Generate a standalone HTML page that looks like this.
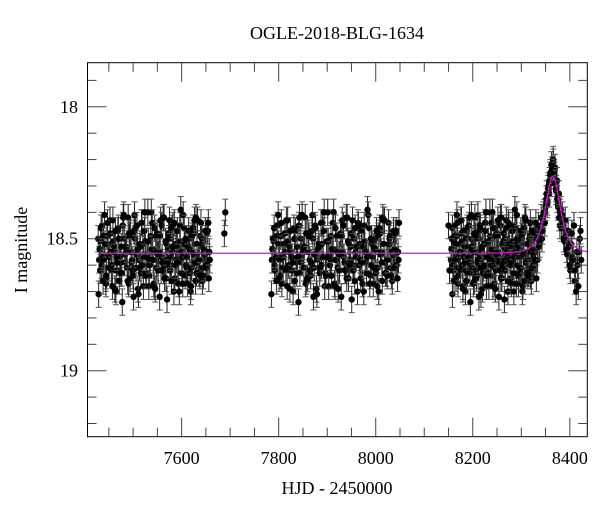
<!DOCTYPE html>
<html><head><meta charset="utf-8"><style>
body{margin:0;background:#fff}
svg{display:block;font-family:"Liberation Serif",serif}
</style></head><body>
<svg id="c" width="600" height="512"></svg>
<script>
const xDomain=[7406,8436];
const yDomain=[17.833,19.25];
const xTicks=[7600,7800,8000,8200,8400];
const yTicks=[18,18.5,19];
const seasonStart=[7428,7785,8155];
const seasonEnd=[7655,8045,8328];
const magsA=[18.50,18.62,18.45,18.58,18.67,18.52,18.43,18.60,18.55,18.70,18.47,18.57,18.63,18.41,18.53,18.66,18.49,18.59,18.72,18.46,18.54,18.61,18.44,18.68,18.51,18.56,18.64,18.40,18.58,18.69,18.48,18.55,18.62,18.42,18.60,18.73,18.50,18.57,18.45,18.65,18.53,18.59,18.39,18.67,18.52,18.61,18.47,18.70,18.55,18.43,18.63,18.58,18.49,18.66,18.54,18.60,18.44];
const magsB=[18.71,18.51,18.57,18.41,18.64,18.56,18.48,18.68,18.53,18.62,18.46,18.59,18.74,18.50,18.55,18.42,18.65,18.58,18.47,18.61,18.69,18.52,18.44,18.57,18.63,18.40,18.60,18.54,18.67,18.49,18.56,18.72,18.45,18.62,18.51,18.58,18.43,18.66,18.53,18.60,18.47,18.70,18.55,18.41,18.64,18.57,18.50,18.68,18.46,18.59,18.52,18.63,18.44,18.61,18.56,18.48,18.65];
const magsC=[18.58,18.46,18.66,18.52,18.49,18.61,18.55,18.43,18.69,18.57,18.50,18.63,18.45,18.59,18.54,18.67,18.48,18.62,18.41,18.56,18.71,18.53,18.60,18.47,18.64,18.51,18.58,18.44,18.68,18.55,18.62,18.49,18.57,18.42,18.65,18.53,18.60,18.46,18.70,18.52,18.59,18.45,18.63,18.56,18.50,18.67,18.54,18.61,18.48,18.66,18.43,18.58,18.52,18.64,18.47,18.60,18.55];
const magsD=[18.54,18.60,18.49,18.65,18.44,18.57,18.62,18.51,18.47,18.59,18.66,18.53,18.42,18.56,18.61,18.48,18.55,18.64,18.50,18.45,18.58,18.63,18.52,18.40,18.57,18.68,18.49,18.54,18.46,18.61,18.56,18.43,18.59,18.65,18.52,18.48,18.62,18.55,18.44,18.58,18.67,18.51,18.57,18.46,18.60,18.53,18.63,18.49,18.56,18.42,18.59,18.64,18.50,18.55,18.61,18.47,18.58];
const peakT=[8332,8335,8338,8341,8344,8347,8350,8352,8354,8356,8358,8360,8362,8364,8366,8368,8370,8372,8374,8376,8378,8380,8383,8386,8389,8392,8395,8398,8401,8404,8407,8410,8413,8416,8419,8422];
const peakM1=[18.50,18.45,18.52,18.42,18.47,18.40,18.38,18.33,18.36,18.30,18.28,18.25,18.22,18.24,18.21,18.26,18.29,18.32,18.35,18.38,18.42,18.40,18.46,18.44,18.51,18.49,18.56,18.53,18.62,18.48,18.58,18.66,18.70,18.60,18.55,18.47];
const peakM2=[18.58,18.53,18.47,18.50,18.41,18.44,18.35,18.37,18.31,18.33,18.26,18.29,18.24,18.20,18.25,18.23,18.31,18.28,18.37,18.33,18.45,18.39,18.41,18.50,18.43,18.54,18.47,18.60,18.52,18.57,18.45,18.62,18.55,18.68,18.50,18.58];
const extraT=[7688,7690,8150,8152];
const extraM=[18.48,18.40,18.45,18.62];
const modelBase=18.555, modelT0=8365, modelU0=1.05, modelTE=18;

const L=87.5,R=587.3,T=62.7,B=436.7;
const sx=v=>L+(v-xDomain[0])/(xDomain[1]-xDomain[0])*(R-L);
const sy=v=>T+(v-yDomain[0])/(yDomain[1]-yDomain[0])*(B-T);
const svg=document.getElementById('c');
const NS='http://www.w3.org/2000/svg';
function mk(tag,attrs,parent){const e=document.createElementNS(NS,tag);for(const k in attrs)e.setAttribute(k,attrs[k]);(parent||svg).appendChild(e);return e;}

let t=mk('text',{x:337,y:39,'text-anchor':'middle','font-size':18});
t.textContent='OGLE-2018-BLG-1634';



const pts=mk('g',{});


function point(x,m){
  const X=sx(x),Y=sy(m),e=0.05*(B-T)/(yDomain[1]-yDomain[0]);
  mk('line',{x1:X,x2:X,y1:Y-e,y2:Y+e,stroke:'#222','stroke-width':1},pts);
  mk('line',{x1:X-3,x2:X+3,y1:Y-e,y2:Y-e,stroke:'#555','stroke-width':1},pts);
  mk('line',{x1:X-3,x2:X+3,y1:Y+e,y2:Y+e,stroke:'#555','stroke-width':1},pts);
  const c=mk('circle',{cx:X,cy:Y,r:3.2,fill:'#000'},pts);
  
  
}
const seasonMags=[[magsA,magsB,magsC,magsD],[magsB,magsC,magsD,magsA],[magsC,magsD,magsA,magsB]];
const offs=[0,1,2,3];
for(let s=0;s<3;s++){
  const lists=seasonMags[s];const n=lists[0].length;
  for(let i=0;i<n;i++){
    const tt=seasonStart[s]+(seasonEnd[s]-seasonStart[s])*i/(n-1);
    for(let k=0;k<4;k++)point(tt+offs[k],lists[k][i]);
  }
}
for(let i=0;i<peakT.length;i++){point(peakT[i],peakM1[i]);point(peakT[i]+1.5,peakM2[i]);}
for(let i=0;i<extraT.length;i++)point(extraT[i],extraM[i]);

let d='';
for(let x=7432;x<=8436;x+=1){
  const tau=(x-modelT0)/modelTE,u=Math.sqrt(modelU0*modelU0+tau*tau);
  const A=(u*u+2)/(u*Math.sqrt(u*u+4));
  const m=modelBase-2.5*Math.log10(A);
  d+=(d?'L':'M')+sx(x).toFixed(2)+','+sy(m).toFixed(2);
}
const ml=mk('path',{d:d,fill:'none',stroke:'#e010e0','stroke-width':1.2});



const fr=mk('rect',{x:L,y:T,width:R-L,height:B-T,fill:'none',stroke:'#000','stroke-width':1});



const xa=mk('g',{});


for(let v=7450;v<=8400;v+=50){
  const X=sx(v),major=v%200===0,len=major?19:9;
  mk('line',{x1:X,x2:X,y1:B,y2:B-len,stroke:'#444'},xa);
  mk('line',{x1:X,x2:X,y1:T,y2:T+len,stroke:'#444'},xa);
}
xTicks.forEach(v=>{const e=mk('text',{x:sx(v),y:464,'text-anchor':'middle','font-size':18},xa);e.textContent=v;
  });
const ya=mk('g',{});


for(let k=0;k<=13;k++){
  const v=17.9+k*0.1;if(v>yDomain[1])break;
  const Y=sy(v),major=Math.abs(v*2-Math.round(v*2))<1e-6,len=major?19:9;
  mk('line',{x1:L,x2:L+len,y1:Y,y2:Y,stroke:'#444'},ya);
  mk('line',{x1:R,x2:R-len,y1:Y,y2:Y,stroke:'#444'},ya);
}
yTicks.forEach(v=>{const e=mk('text',{x:78,y:sy(v)+6,'text-anchor':'end','font-size':18},ya);e.textContent=v;
  });

let xl=mk('text',{x:337,y:494,'text-anchor':'middle','font-size':18});
xl.textContent='HJD - 2450000';


let yl=mk('text',{x:0,y:0,'text-anchor':'middle','font-size':18,transform:'translate(27,250) rotate(-90)'});
yl.textContent='I magnitude';


</script>
</body></html>
